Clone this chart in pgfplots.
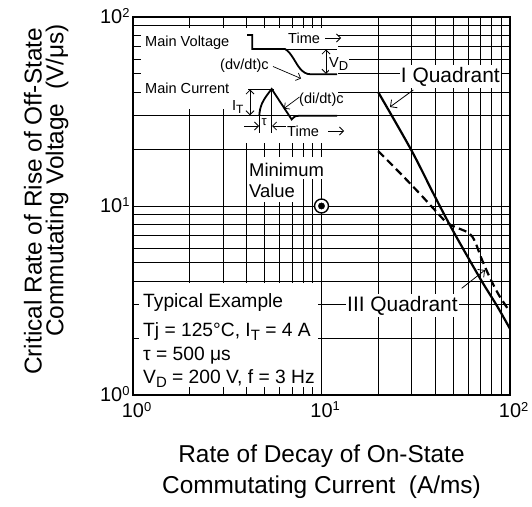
\documentclass[border=0pt]{standalone}
\usepackage{fontspec}
\setmainfont{Liberation Sans}
\usepackage{pgfplots}
\pgfplotsset{compat=1.18}
\usetikzlibrary{arrows.meta}
\newcommand{\ex}[1]{\raisebox{6.5pt}{\fontsize{13}{13}\selectfont #1}}
\begin{document}
\begin{tikzpicture}
\useasboundingbox (0,0) rectangle (532bp,-507bp);
\begin{axis}[
  at={(133bp,-395bp)}, anchor=south west,
  scale only axis, width=377bp, height=378bp,
  xmode=log, ymode=log, xmin=1, xmax=100, ymin=1, ymax=100,
  xtick={1,10,100}, ytick={1,10,100},
  minor xtick={2,3,4,5,6,7,8,9,20,30,40,50,60,70,80,90},
  minor ytick={2,3,4,5,6,7,8,9,20,30,40,50,60,70,80,90},
  grid=both,
  major grid style={black, line width=0.8bp},
  minor grid style={black, line width=0.8bp},
  tick style={draw=none},
  axis line style={line width=2.2bp},
  xticklabels={10\rlap{\ex{0}},10\rlap{\ex{1}},10\rlap{\ex{2}}},
  yticklabels={10\ex{0},10\ex{1},10\ex{2}},
  ticklabel style={font=\fontsize{20}{24}\selectfont},
  xticklabel style={yshift=-3.5bp},
  yticklabel style={yshift=1bp},
]
\addplot[black, line width=2.2bp, smooth] coordinates {(20,40) (30,19.7) (40,11.2) (50,7.35) (70,4.08) (85,2.98) (100,2.24)};
\addplot[black, line width=2.2bp, dash pattern=on 8bp off 4.5bp, smooth] coordinates {(20,19.5) (26,15) (33,11.7) (40,9.5) (46,8.2) (52,7.7) (59,7.3) (63,6.9) (66,6.3) (71,5.2) (78,4.2) (87,3.4) (100,2.75)};
\addplot[only marks, mark=*, mark size=7pt, mark options={fill=white, draw=black, line width=1.4bp}] coordinates {(10,10)};
\addplot[only marks, mark=*, mark size=3.2pt, mark options={fill=black, draw=black}] coordinates {(10,10)};
\end{axis}
\begin{scope}[x=1bp, y=-1bp]
% white boxes hiding the grid
\fill[white] (141,28) rectangle (338,109);
\fill[white] (226,109) rectangle (336,143);
\fill[white] (248,157) rectangle (325,179);
\fill[white] (248,179) rectangle (298,202);
\fill[white] (139,283) rectangle (318,387);
\draw[line width=0.8bp] (222,115.8) -- (338,115.8);
% main voltage waveform
\draw[line width=1.8bp] (247,35) -- (252.3,35) -- (252.3,49) -- (285,49) .. controls (291,52) and (296,64) .. (300,68.5) .. controls (303,72) and (306,74.3) .. (311,74.3) -- (337,74.3);
\draw[line width=0.8bp] (285,49) -- (337,49);
\draw[line width=0.8bp, {Straight Barb[length=4bp]}-{Straight Barb[length=4bp]}] (326,49.5) -- (326,73.8);
% main current waveform
\draw[line width=1.8bp] (259.3,115.8) .. controls (260,106) and (262,101) .. (271.7,89) -- (291.7,119.5) .. controls (293.5,117) and (295,115.8) .. (299,115.8) -- (337,115.8);
\draw[line width=0.8bp] (248,89) -- (274,89);
\draw[line width=0.8bp, {Straight Barb[length=4bp]}-{Straight Barb[length=4bp]}] (250,89.5) -- (250,115.3);
\draw[line width=0.8bp] (259.3,115.8) -- (259.3,133);
\draw[line width=0.8bp] (271.7,89) -- (271.7,133);
\draw[line width=0.8bp, -{Straight Barb[length=4bp]}] (244,126) -- (259,126);
\draw[line width=0.8bp, -{Straight Barb[length=4bp]}] (286,126) -- (272,126);
\draw[line width=0.8bp, -{Straight Barb[length=4bp]}] (325,38) -- (341,38);
\draw[line width=0.8bp, -{Straight Barb[length=4bp]}] (328,131) -- (344,131);
\draw[line width=0.7bp, -{Straight Barb[length=4bp]}] (273,66.5) -- (301,78.5);
\draw[line width=0.7bp, -{Straight Barb[length=4bp]}] (299.5,97) -- (284,108.5);
% inset texts
\begin{scope}[every node/.style={anchor=base west, inner sep=0pt, font=\fontsize{14.6}{16}\selectfont}]
\node at (145,46.5) {Main Voltage};
\node at (145,93.3) {Main Current};
\node at (288,43.3) {Time};
\node at (220,69.5) {(dv/dt)c};
\node at (299,103) {(di/dt)c};
\node at (232,110) {I\raisebox{-3bp}{\fontsize{12}{12}\selectfont T}};
\node at (287,136) {Time};
\node[fill=white, inner sep=0.5bp] at (328.5,67) {V\raisebox{-3.5bp}{\fontsize{13}{13}\selectfont D}};
\node[font=\fontsize{13}{13}\selectfont] at (261.5,125) {τ};
\end{scope}
% minimum value
\begin{scope}[every node/.style={anchor=base west, inner sep=0pt, font=\fontsize{18.5}{20}\selectfont}]
\node at (249,176.7) {Minimum};
\node at (249,197.3) {Value};
\end{scope}
% typical example
\begin{scope}[every node/.style={anchor=base west, inner sep=0pt, font=\fontsize{19.3}{22}\selectfont}]
\node at (143,307) {Typical Example};
\node at (143,336.5) {Tj = 125°C, I\raisebox{-3.5bp}{\fontsize{15}{15}\selectfont T} = 4 A};
\node at (143,360) {τ = 500 μs};
\node at (143,383.5) {V\raisebox{-3.5bp}{\fontsize{15}{15}\selectfont D} = 200 V, f = 3 Hz};
\end{scope}
% quadrant labels
\draw[line width=0.8bp, -{Straight Barb[length=5bp]}] (413.3,90) -- (390,107);
\draw[line width=0.8bp, -{Straight Barb[length=5bp]}] (461.7,288.3) -- (485,270);
\node[anchor=base west, fill=white, inner xsep=1bp, inner ysep=1.8bp, font=\fontsize{21}{24}\selectfont] at (399.7,82.3) {I Quadrant};
\node[anchor=base west, fill=white, inner xsep=1bp, inner ysep=1.8bp, font=\fontsize{21}{24}\selectfont] at (346,311) {III Quadrant};
% axis titles
\node[anchor=base, inner sep=0pt, font=\fontsize{24.5}{28}\selectfont] at (321.5,462.7) {Rate of Decay of On-State};
\node[anchor=base, inner sep=0pt, font=\fontsize{24.5}{28}\selectfont] at (321.5,493.3) {Commutating Current~~(A/ms)};
\node[rotate=90, anchor=base west, inner sep=0pt, font=\fontsize{24.5}{28}\selectfont] at (41.7,375) {Critical Rate of Rise of Off-State};
\node[rotate=90, anchor=base west, inner sep=0pt, font=\fontsize{24.5}{28}\selectfont] at (63.3,337) {Commutating Voltage~~(V/μs)};
\end{scope}
\end{tikzpicture}
\end{document}
